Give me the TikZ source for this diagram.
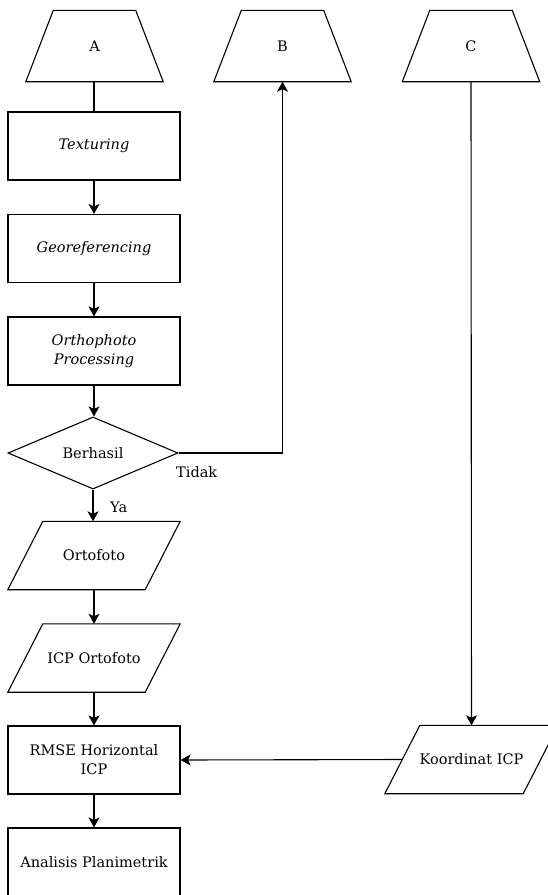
\documentclass[tikz,border=0pt]{standalone}
\usepackage{fontspec}
\setmainfont{DejaVu Serif}
\usetikzlibrary{arrows.meta,shapes.geometric,calc}

\tikzset{
  base/.style={inner sep=0pt, align=center, font=\fontsize{14.5}{19}\selectfont},
  procbox/.style={base, draw, line width=1.1pt, minimum width=172pt, minimum height=68pt},
  slot/.style={base, minimum width=#1pt, minimum height=68pt},
  decide/.style={base, draw, line width=1.1pt, diamond, minimum width=170pt, minimum height=68pt},
  lbl/.style={inner sep=0pt, font=\fontsize{14.5}{17}\selectfont},
  flow/.style={line width=1.1pt, -{Stealth[length=10pt,width=11pt,inset=2.5pt]}},
  plain/.style={line width=1.1pt},
  outline/.style={line width=1.1pt, line join=miter}
}

\begin{document}
\begin{tikzpicture}[x=1pt,y=-1pt]
\useasboundingbox (0,0) rectangle (548,895);
\begin{scope}
\clip (0,0) rectangle (548,895);

% off-page connectors (trapezia)
\node[slot=137, minimum height=71pt] (A) at (94.5,46) {A};
\node[slot=137, minimum height=71pt] (B) at (282.5,46) {B};
\node[slot=137, minimum height=71pt] (C) at (471,46) {C};
\foreach \n in {A,B,C}{
  \draw[outline] (\n.south west) -- (\n.south east)
    -- ($(\n.north east)+(-27.5,0)$) -- ($(\n.north west)+(27.5,0)$) -- cycle;
}

% process steps
\node[procbox] (tex) at (94,146) {\itshape Texturing};
\node[procbox] (geo) at (94,248.5) {\itshape Georeferencing};
\node[procbox] (orp) at (94,351) {\itshape Orthophoto\\\itshape Processing};
\node[decide] (ok) at (93,453) {Berhasil};

% data (parallelograms)
\node[slot=137] (ort) at (94,555.5) {Ortofoto};
\node[slot=137] (icp) at (94,658) {ICP Ortofoto};
\node[slot=138] (kor) at (471.5,759.5) {Koordinat ICP};
\foreach \n/\s in {ort/35,icp/35,kor/35}{
  \draw[outline] ($(\n.south west)+(-\s/2,0)$) -- ($(\n.south east)+(-\s/2,0)$)
    -- ($(\n.north east)+(\s/2,0)$) -- ($(\n.north west)+(\s/2,0)$) -- cycle;
}

\node[procbox] (rmse) at (94,760) {RMSE Horizontal\\ICP};
\node[procbox] (ana) at (94,862) {Analisis Planimetrik};

% connectors
\draw[plain] (A.south -| tex.north) -- (tex.north);
\draw[flow] (tex) -- (geo);
\draw[flow] (geo) -- (orp);
\draw[flow] (orp.south) -- (orp.south |- ok.north);
\draw[flow] (ok.east) -| (B.south);
\draw[flow] (ok.south) -- (ort.north -| ok.south);
\draw[flow] (ort) -- (icp);
\draw[flow] (icp) -- (rmse);
\draw[flow] (rmse) -- (ana);
\draw[flow] (C.south) -- (kor.north);
\draw[flow] (kor.west) -- (rmse.east);

\node[lbl, anchor=west] (ya) at (110,507) {Ya};
\node[lbl, anchor=west] (tidak) at (176,472) {Tidak};
\end{scope}
\end{tikzpicture}
\end{document}
